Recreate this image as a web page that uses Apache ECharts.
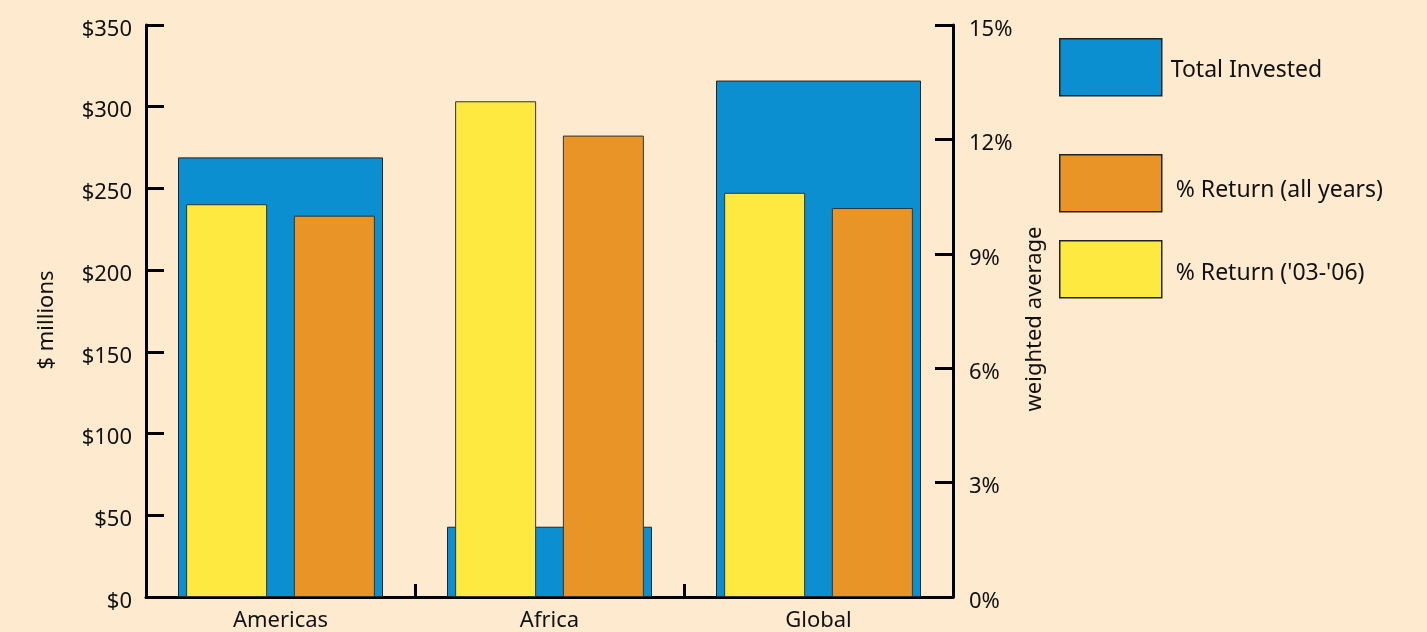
<!DOCTYPE html>
<html>
<head>
<meta charset="utf-8">
<script src="https://cdn.jsdelivr.net/npm/echarts@6/dist/echarts.min.js"></script>
<style>
  html, body { margin: 0; padding: 0; background: #FEEACE; }
  #chart { width: 1427px; height: 632px; }
</style>
</head>
<body>
<div id="chart"></div>
<script>
var regions = ['Americas', 'Africa', 'Global'];
var totalInvested = [269, 43, 316];          // $ millions
var returnAllYears = [10.0, 12.1, 10.2];     // %
var return0306 = [10.3, 13.0, 10.6];         // %
var leftTicks = [0, 50, 100, 150, 200, 250, 300, 350];
var rightTicks = [0, 3, 6, 9, 12, 15];

var fontName = 'Noto Sans';
var ink = '#111';

var chart = echarts.init(document.getElementById('chart'));

// one legend per entry, the gaps between them are not even
function legendBox(name, top, pad) {
  return {
    data: [name],
    left: 1059,
    top: top,
    orient: 'vertical',
    icon: 'rect',
    itemWidth: 102,
    itemHeight: 57,
    padding: 0,
    selectedMode: false,
    itemStyle: { borderColor: '#222', borderWidth: 1.5 },
    formatter: function (n) { return '{t|' + n + '}'; },
    textStyle: {
      color: ink, fontSize: 23, fontFamily: fontName,
      rich: { t: { color: ink, fontSize: 23, fontFamily: fontName, padding: pad } }
    }
  };
}

// labels sit a little below their ticks in the original
var tickRich = { v: { color: ink, fontSize: 22, fontFamily: fontName, padding: [9, 0, 0, 0] } };

var option = {
  backgroundColor: '#FEEACE',
  animation: false,
  textStyle: { fontFamily: fontName },
  grid: { left: 146, right: 474, top: 25, bottom: 34 },
  legend: [
    legendBox('Total Invested', 38, [6, 0, 0, 4]),
    legendBox('% Return (all years)', 154, [14, 0, 0, 9]),
    legendBox("% Return ('03-'06)", 240, [8, 0, 0, 9])
  ],
  xAxis: [{
    type: 'category',
    data: regions,
    axisLine: { lineStyle: { color: '#000', width: 3 } },
    axisTick: { show: true, inside: true, length: 13, lineStyle: { color: '#000', width: 3 } },
    axisLabel: { color: ink, fontSize: 22, margin: 13 }
  }, {
    type: 'category',
    data: regions,
    show: false
  }],
  yAxis: [{
    type: 'value',
    min: 0, max: 350, interval: 50,
    name: '{n|$ millions}',
    nameLocation: 'middle',
    nameRotate: 90,
    nameGap: 88,
    nameTextStyle: {
      color: ink, fontSize: 22,
      rich: { n: { color: ink, fontSize: 22, fontFamily: fontName, padding: [0, 18, 0, 0] } }
    },
    axisLine: { show: true, lineStyle: { color: '#000', width: 3 } },
    axisTick: { show: true, inside: true, length: 18, lineStyle: { color: '#000', width: 3 } },
    splitLine: { show: false },
    axisLabel: {
      color: ink, fontSize: 22, margin: 14, rich: tickRich,
      formatter: function (v) { return leftTicks.indexOf(v) >= 0 ? '{v|$' + v + '}' : ''; }
    }
  }, {
    type: 'value',
    min: 0, max: 15, interval: 3,
    position: 'right',
    name: '{n|weighted average}',
    nameLocation: 'middle',
    nameRotate: 90,
    nameGap: 64,
    nameTextStyle: {
      color: ink, fontSize: 22,
      rich: { n: { color: ink, fontSize: 22, fontFamily: fontName, padding: [0, 16, 0, 0] } }
    },
    axisLine: { show: true, lineStyle: { color: '#000', width: 3 } },
    axisTick: { show: true, inside: true, length: 18, lineStyle: { color: '#000', width: 3 } },
    splitLine: { show: false },
    axisLabel: {
      color: ink, fontSize: 22, margin: 16, rich: tickRich,
      formatter: function (v) { return rightTicks.indexOf(v) >= 0 ? '{v|' + v + '%}' : ''; }
    }
  }],
  series: [{
    name: 'Total Invested',
    type: 'bar',
    xAxisIndex: 0,
    yAxisIndex: 0,
    barWidth: 205,
    data: totalInvested,
    itemStyle: { color: '#0B8FD0', borderColor: '#222', borderWidth: 1 }
  }, {
    name: "% Return ('03-'06)",
    type: 'bar',
    xAxisIndex: 1,
    yAxisIndex: 1,
    barWidth: 81,
    barGap: '33%',
    data: return0306,
    itemStyle: { color: '#FDE93F', borderColor: '#333', borderWidth: 1 }
  }, {
    name: '% Return (all years)',
    type: 'bar',
    xAxisIndex: 1,
    yAxisIndex: 1,
    barWidth: 81,
    barGap: '33%',
    data: returnAllYears,
    itemStyle: { color: '#E89426', borderColor: '#333', borderWidth: 1 }
  }]
};

chart.setOption(option);
</script>
</body>
</html>
